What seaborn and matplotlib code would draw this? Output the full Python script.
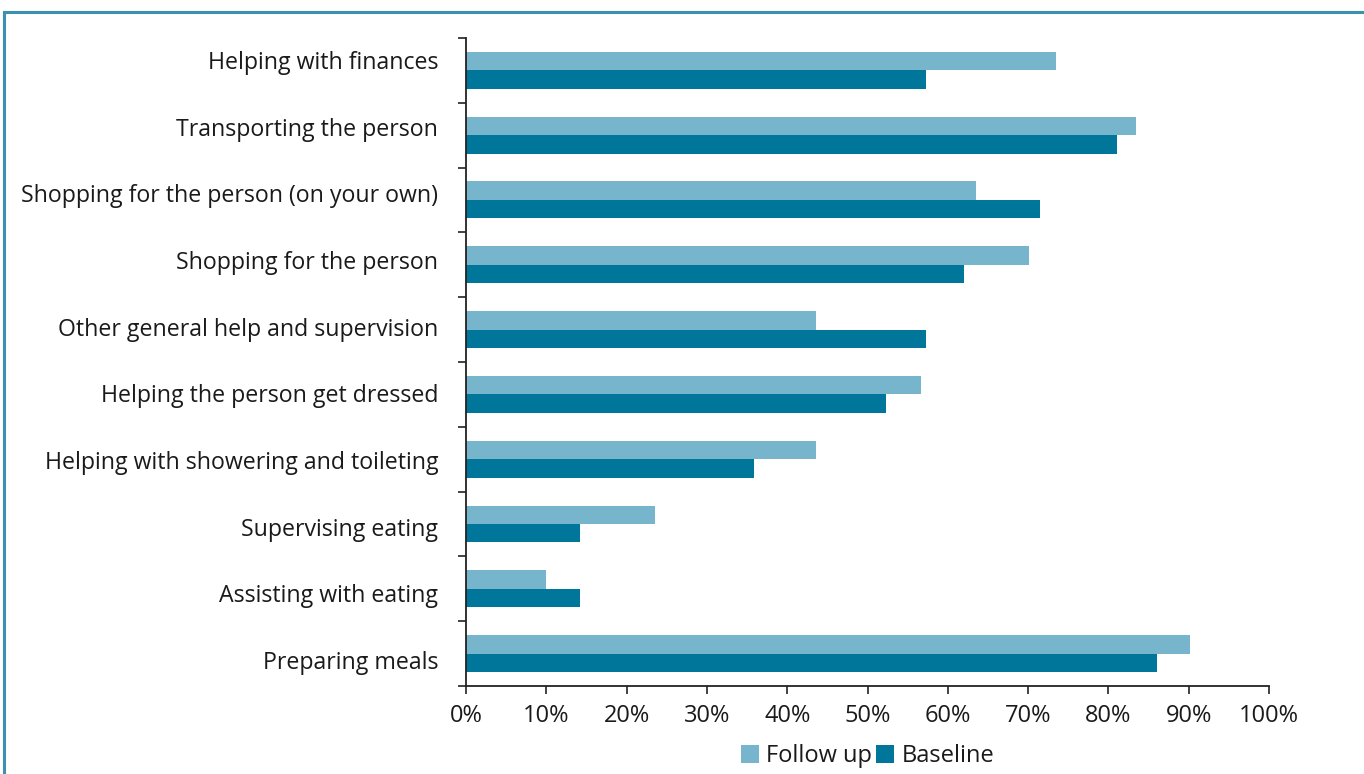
import numpy as np
import pandas as pd
import seaborn as sns
import matplotlib.pyplot as plt
from matplotlib.patches import Rectangle

categories = ['Helping with finances', 'Transporting the person',
              'Shopping for the person (on your own)', 'Shopping for the person',
              'Other general help and supervision', 'Helping the person get dressed',
              'Helping with showering and toileting', 'Supervising eating',
              'Assisting with eating', 'Preparing meals']
follow_up = [73.5, 83.4, 63.5, 70.1, 43.6, 56.7, 43.6, 23.5, 10.0, 90.2]
baseline = [57.3, 81.1, 71.5, 62.0, 57.3, 52.3, 35.9, 14.2, 14.2, 86.1]
series = ['Follow up', 'Baseline']
colors = ['#77b5cc', '#00769b']

df = pd.DataFrame({'category': categories * 2,
                   'value': follow_up + baseline,
                   'series': [series[0]] * 10 + [series[1]] * 10})

sns.set_style('white')
plt.rcParams['font.family'] = ['Open Sans', 'DejaVu Sans']

fig = plt.figure(figsize=(13.64, 7.74), dpi=100)
ax = fig.add_axes([0.3416, 0.1137, 0.5888, 0.8373])

sns.barplot(data=df, y='category', x='value', hue='series', order=categories,
            hue_order=series, palette=colors, orient='h', width=0.57,
            saturation=1, linewidth=0, edgecolor='none', ax=ax, legend=True)

ax.set_xlim(0, 100)
ax.set_ylim(9.5, -0.5)
ax.set_xticks(np.arange(0, 101, 10))
ax.set_xticklabels([f'{v}%' for v in range(0, 101, 10)], fontsize=17, color='#1a1a1a')
# category labels in the original sit on a slightly wider spacing than the bar groups
ax.set_yticks(np.linspace(-0.16, 9.1, len(categories)))
ax.set_yticklabels(categories, fontsize=16.7, color='#1a1a1a')
ax.set_yticks(np.arange(-0.5, 10, 1), minor=True)
ax.tick_params(axis='y', which='major', length=0, pad=20)
ax.tick_params(axis='y', which='minor', length=6, width=1.2, color='#222222', direction='out', left=True)
ax.tick_params(axis='x', length=6, width=1.2, color='#222222', direction='out', bottom=True, pad=7)
ax.set_xlabel('')
ax.set_ylabel('')

for side in ['top', 'right']:
    ax.spines[side].set_visible(False)
for side in ['left', 'bottom']:
    ax.spines[side].set_color('#222222')
    ax.spines[side].set_linewidth(1.3)

handles, labels = ax.get_legend_handles_labels()
ax.legend_.remove()
fig.legend(handles, labels, loc='center', bbox_to_anchor=(0.636, 0.023), ncol=2,
           frameon=False, fontsize=17, handlelength=0.75, handleheight=0.75,
           handletextpad=0.3, columnspacing=0.2, labelcolor='#1a1a1a')

# frame around the figure (top and left edges visible)
fig.patches.append(Rectangle((4 / 1364, -0.05), 1.2, 1.05 - 12 / 774,
                             transform=fig.transFigure, fill=False,
                             edgecolor='#3a91b0', linewidth=2.2))

fig.savefig('out.png', dpi=100)
